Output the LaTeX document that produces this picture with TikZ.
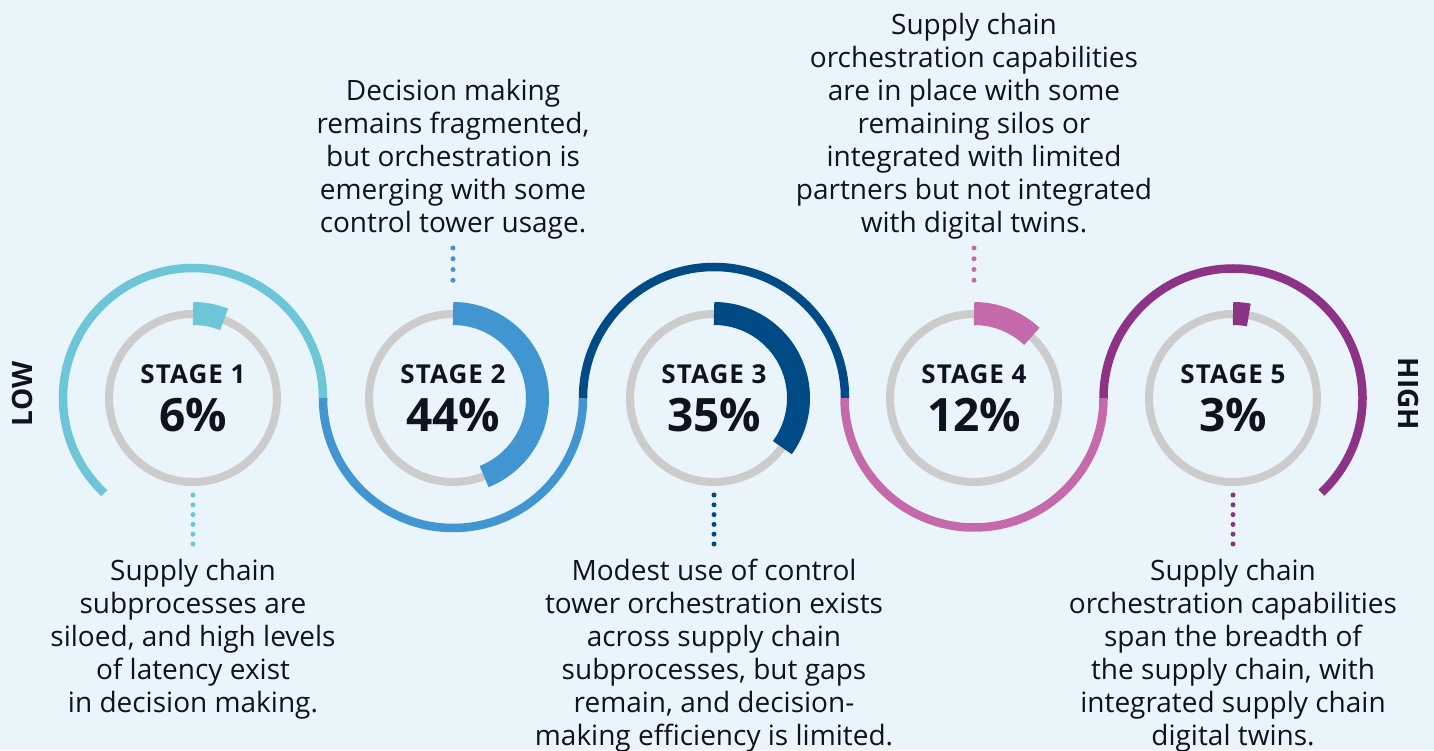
\documentclass[tikz,border=0pt]{standalone}
\usepackage{fontspec}
\setmainfont{Open Sans}
\usetikzlibrary{positioning}

\definecolor{bgblue}{HTML}{EAF4FB}
\definecolor{ink}{HTML}{0D1321}
\definecolor{ringgray}{HTML}{CCCCCC}
\definecolor{stgone}{HTML}{6CC6D8}
\definecolor{stgtwo}{HTML}{4196D1}
\definecolor{stgthree}{HTML}{004A85}
\definecolor{stgfour}{HTML}{C46AAA}
\definecolor{stgfive}{HTML}{8C3388}

\begin{document}
\begin{tikzpicture}[%
      x=1pt, y=1pt,
      ring/.style={circle, draw=ringgray, line width=8pt, minimum size=168pt, inner sep=0pt},
      wave/.style={line width=8.5pt},
      prog/.style={line width=23pt},
      stagelbl/.style={anchor=base, text=ink, font=\bfseries\fontsize{26}{30}\selectfont\addfontfeature{LetterSpace=4}},
      pctlbl/.style={anchor=base, text=ink, font=\bfseries\fontsize{46}{50}\selectfont},
      desc/.style={align=center, inner sep=0pt, text=ink, font=\fontsize{28}{33}\selectfont},
      side/.style={text=ink, inner sep=0pt, font=\bfseries\fontsize{28}{30}\selectfont},
      dotsdown/.style={line width=5pt, line cap=round, dash pattern=on 0pt off 9.8pt},
      dotsup/.style={line width=5pt, line cap=round, dash pattern=on 0pt off 10.75pt},
      ]
      \fill [bgblue] (0,0) rectangle (1434,750);
      \useasboundingbox (0,0) rectangle (1434,750);

      % rings
      \node [ring] (s1) at (193,352) {};
      \node [ring] (s2) at (453,352) {};
      \node [ring] (s3) at (714,352) {};
      \node [ring] (s4) at (974,352) {};
      \node [ring] (s5) at (1233,352) {};

      % wave
      \draw [wave, stgone] (s1.center) ++(227:130) arc[start angle=227, end angle=0, radius=130];
      \draw [wave, stgtwo] (s2.center) ++(180:130) arc[start angle=180, end angle=360, radius=130];
      \draw [wave, stgthree] (s3.center) ++(180:131) arc[start angle=180, end angle=0, radius=131];
      \draw [wave, stgfour] (s4.center) ++(180:129.5) arc[start angle=180, end angle=360, radius=129.5];
      \draw [wave, stgfive] (s5.center) ++(180:129.5) arc[start angle=180, end angle=-47, radius=129.5];

      % shares
      \draw [prog, stgone] (s1.center) ++(90:84.5) arc[start angle=90, delta angle=-21.6, radius=84.5];
      \draw [prog, stgtwo] (s2.center) ++(90:84.5) arc[start angle=90, delta angle=-158.4, radius=84.5];
      \draw [prog, stgthree] (s3.center) ++(90:84.5) arc[start angle=90, delta angle=-126, radius=84.5];
      \draw [prog, stgfour] (s4.center) ++(90:84.5) arc[start angle=90, delta angle=-43.2, radius=84.5];
      \draw [prog, stgfive] (s5.center) ++(90:84.5) arc[start angle=90, delta angle=-10.8, radius=84.5];

      \node [stagelbl] (t1) at ([yshift=14pt]s1.center) {STAGE 1};
      \node [stagelbl] (t2) at ([yshift=14pt]s2.center) {STAGE 2};
      \node [stagelbl] (t3) at ([yshift=14pt]s3.center) {STAGE 3};
      \node [stagelbl] (t4) at ([yshift=14pt]s4.center) {STAGE 4};
      \node [stagelbl] (t5) at ([yshift=14pt]s5.center) {STAGE 5};

      \node [pctlbl] (p1) at ([yshift=-34pt]s1.center) {6\%};
      \node [pctlbl] (p2) at ([yshift=-34pt]s2.center) {44\%};
      \node [pctlbl] (p3) at ([yshift=-34pt]s3.center) {35\%};
      \node [pctlbl] (p4) at ([yshift=-34pt]s4.center) {12\%};
      \node [pctlbl] (p5) at ([yshift=-34pt]s5.center) {3\%};

      \node [side, rotate=90] (low) at (22,356) {LOW};
      \node [side, rotate=-90] (high) at (1408,356) {HIGH};

      % descriptions
      \node [desc, below=73pt of s1] (d1) {Supply chain\\subprocesses are\\siloed, and high levels\\of latency exist\\in decision making.};
      \node [desc, above=71pt of s2] (d2) {Decision making\\remains fragmented,\\but orchestration is\\emerging with some\\control tower usage.};
      \node [desc, below=73pt of s3] (d3) {Modest use of control\\tower orchestration exists\\across supply chain\\subprocesses, but gaps\\remain, and decision-\\making efficiency is limited.};
      \node [desc, above=71pt of s4] (d4) {Supply chain\\orchestration capabilities\\are in place with some\\remaining silos or\\integrated with limited\\partners but not integrated\\with digital twins.};
      \node [desc, below=73pt of s5] (d5) {Supply chain\\orchestration capabilities\\span the breadth of\\the supply chain, with\\integrated supply chain\\digital twins.};

      \draw [dotsdown, stgone] ([yshift=-9pt]s1.south) -- ([yshift=15pt]d1.north);
      \draw [dotsup, stgtwo] ([yshift=-9pt]d2.south) -- ([yshift=19pt]s2.north);
      \draw [dotsdown, stgthree] ([yshift=-9pt]s3.south) -- ([yshift=15pt]d3.north);
      \draw [dotsup, stgfour] ([yshift=-9pt]d4.south) -- ([yshift=19pt]s4.north);
      \draw [dotsdown, stgfive] ([yshift=-9pt]s5.south) -- ([yshift=15pt]d5.north);
\end{tikzpicture}
\end{document}
